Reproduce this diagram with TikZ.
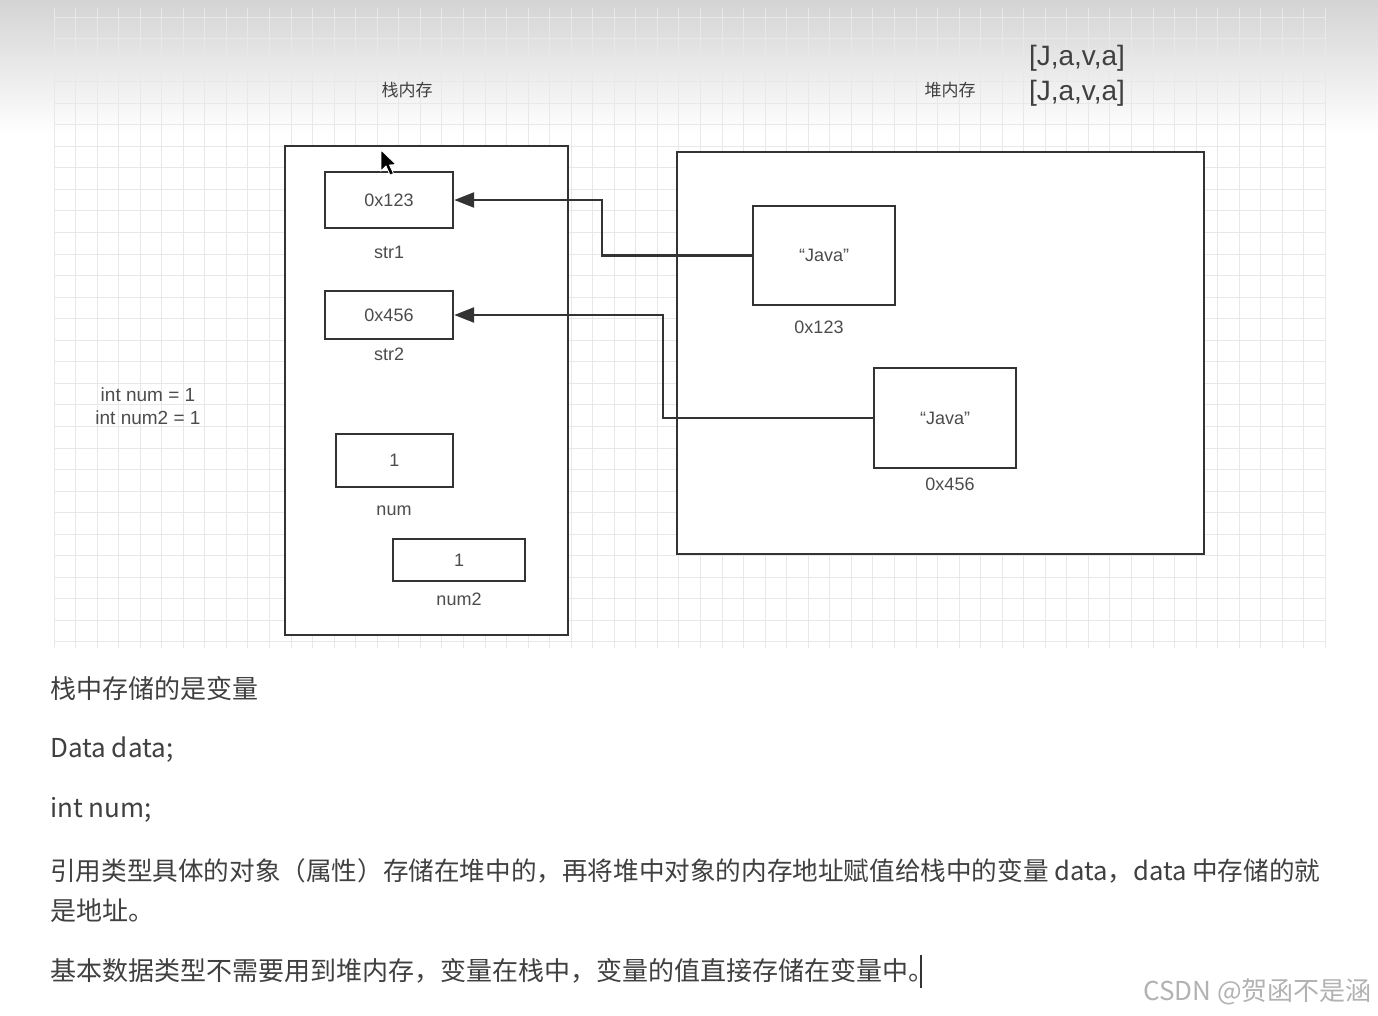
\documentclass[tikz,border=0pt]{standalone}
\usepackage{fontspec}
\setmainfont{Liberation Sans}
\newfontfamily\cjk{Noto Sans CJK SC}
\usetikzlibrary{arrows.meta, positioning}

\begin{document}
\begin{tikzpicture}[
  x=1pt, y=-1pt,
  box/.style={draw=black!80, line width=2.4pt, fill=white, inner sep=0pt,
    font=\fontsize{18}{21}\selectfont, text=black!70},
  lbl/.style={font=\fontsize{18}{21}\selectfont, text=black!70, inner sep=0pt},
  cjklbl/.style={font=\cjk\fontsize{17}{20}\selectfont, text=black!75, inner sep=0pt},
  note/.style={anchor=west, font=\cjk\fontsize{26}{30}\selectfont, text=black!75, inner sep=0pt},
  ptr/.style={draw=black!80, line width=2.4pt, -{Triangle[length=20pt, width=15pt]}},
  gridline/.style={draw=black!9, line width=1pt}
]
  \useasboundingbox (0,0) rectangle (1378,1015);
  \fill[white] (0,0) rectangle (1378,1015);

  %--- Background grid ---
  \shade[top color=black!17, bottom color=white] (0,0) rectangle (1378,135);
  \foreach \gx in {54,75.55,...,1326} \draw[gridline] (\gx,8) -- (\gx,648);
  \foreach \gy in {17,38.55,...,648} \draw[gridline] (54,\gy) -- (1325,\gy);

  %--- Titles ---
  \node[cjklbl] (stacklbl) at (407,90) {栈内存};
  \node[cjklbl] (heaplbl)  at (950,90) {堆内存};
  \node[font=\fontsize{28}{32}\selectfont, text=black!75, inner sep=0pt] (chars1) at (1077,58) {[J,a,v,a]};
  \node[font=\fontsize{28}{32}\selectfont, text=black!75, inner sep=0pt] (chars2) at (1077,93) {[J,a,v,a]};

  %--- Stack ---
  \node[box, minimum width=283, minimum height=489] (stack) at (426.5,390.5) {};
  \node[box, minimum width=128, minimum height=56] (str1) at (389,200) {0x123};
  \node[lbl] (str1lbl) at (389,252) {str1};
  \node[box, minimum width=128, minimum height=48] (str2) at (389,315) {0x456};
  \node[lbl] (str2lbl) at (389,354) {str2};
  \node[box, minimum width=117, minimum height=53] (num) at (394.5,460.5) {1};
  \node[lbl] (numlbl) at (394,511) {num};
  \node[box, minimum width=132, minimum height=42] (num2) at (459,560) {1};
  \node[lbl] (num2lbl) at (459,599) {num2};

  \node[lbl, align=center, font=\fontsize{19}{22}\selectfont] (decl) at (148,406) {int num = 1\\[1pt]int num2 = 1};

  %--- Heap ---
  \node[box, minimum width=527, minimum height=402] (heap) at (940.5,353) {};
  \node[box, minimum width=142, minimum height=99] (obj1) at (824,255.5) {“Java”};
  \node[lbl] (obj1lbl) at (819,327) {0x123};
  \node[box, minimum width=142, minimum height=100] (obj2) at (945,418) {“Java”};
  \node[lbl] (obj2lbl) at (950,484) {0x456};

  % References
  \draw[ptr] (obj1.west) -- ++(-150,0) |- (str1.east);
  \draw[ptr] (obj2.west) -- ++(-210,0) |- (str2.east);

  % Mouse pointer
  \filldraw[fill=black, draw=white, line width=0.8pt]
    (381,150) -- (381,171) -- (386,166) -- (390,175) -- (393.5,173.5) -- (389.5,165) -- (396,164.5) -- cycle;

  %--- Notes below ---
  \node[note] (n1) at (50,689) {栈中存储的是变量};
  \node[note] (n2) at (50,750) {Data data;};
  \node[note] (n3) at (50,810) {int num;};
  \node[note, font=\cjk\fontsize{25.6}{30}\selectfont] (n4) at (50,871) {引用类型具体的对象（属性）存储在堆中的，再将堆中对象的内存地址赋值给栈中的变量 data，data 中存储的就};
  \node[note] (n5) at (50,911) {是地址。};
  \node[note] (n6) at (50,971) {基本数据类型不需要用到堆内存，变量在栈中，变量的值直接存储在变量中。};
  \draw[black!80, line width=2pt] (921,955) -- (921,988);

  \node[anchor=east, font=\cjk\fontsize{26}{30}\selectfont, text=black!30, inner sep=0pt] (mark) at (1372,992) {CSDN @贺函不是涵};
\end{tikzpicture}
\end{document}
